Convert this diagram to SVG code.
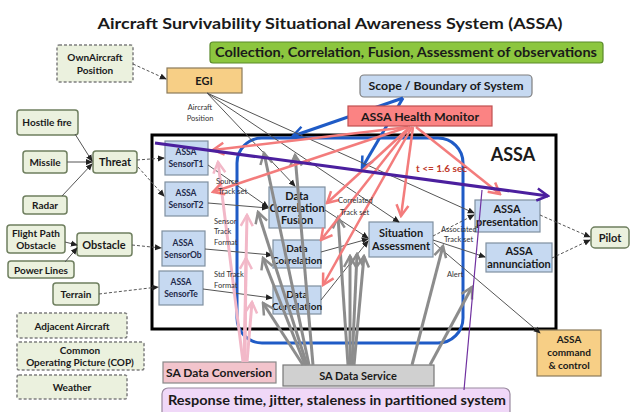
<svg xmlns="http://www.w3.org/2000/svg" width="632" height="412" viewBox="0 0 632 412">
<style>
text{font-family:Lato,"Liberation Sans",Arial,sans-serif;font-weight:bold;fill:#1a1a1a;text-anchor:middle}
.g{fill:#ebf1de;stroke:#6f7f5f;stroke-width:1.5}
.gd{fill:#ebf1de;stroke:#7f7f7f;stroke-width:1.5;stroke-dasharray:3 2}
.b{fill:#c6d9f1;stroke:#7f8fa0;stroke-width:1.2}
.o{fill:#f7cf86;stroke:#8a7a5a;stroke-width:1.2}
.t8{font-size:8.5px;fill:#1f2a4a}
.t10{font-size:10px}
.t11{font-size:11px}
.lbl{font-size:7.5px;font-weight:normal;fill:#333;text-anchor:start}
.thin{stroke:#555;stroke-width:1;fill:none;marker-end:url(#ad)}
.dash{stroke-dasharray:3 2}
.gray{stroke:#8c8c8c;stroke-width:3;fill:none;marker-end:url(#ag)}
.red{stroke:#f37c7c;stroke-width:2.5;fill:none;marker-end:url(#ar)}
.pink{stroke:#f2b8c8;stroke-width:3;fill:none;marker-end:url(#ap)}
.blue{stroke:#1f5bc6;stroke-width:3;fill:none}
</style>
<defs>
<marker id="ad" markerUnits="userSpaceOnUse" viewBox="0 0 8 8" markerWidth="7" markerHeight="7" refX="7" refY="4" orient="auto"><path d="M0,0.5 L8,4 L0,7.5z" fill="#222"/></marker>
<marker id="ag" markerUnits="userSpaceOnUse" viewBox="0 0 16 16" markerWidth="16" markerHeight="16" refX="14" refY="8" orient="auto"><path d="M3,2 L14,8 L3,14" fill="none" stroke="#8c8c8c" stroke-width="2.5"/></marker>
<marker id="ar" markerUnits="userSpaceOnUse" viewBox="0 0 16 16" markerWidth="16" markerHeight="16" refX="14" refY="8" orient="auto"><path d="M3,2 L14,8 L3,14" fill="none" stroke="#f37c7c" stroke-width="2.5"/></marker>
<marker id="ap" markerUnits="userSpaceOnUse" viewBox="0 0 16 16" markerWidth="16" markerHeight="16" refX="14" refY="8" orient="auto"><path d="M3,2 L14,8 L3,14" fill="none" stroke="#f2b8c8" stroke-width="2.5"/></marker>
<marker id="ab" markerUnits="userSpaceOnUse" viewBox="0 0 16 16" markerWidth="16" markerHeight="16" refX="14" refY="8" orient="auto"><path d="M3,2 L14,8 L3,14" fill="none" stroke="#1f5bc6" stroke-width="2.5"/></marker>
<marker id="au" markerUnits="userSpaceOnUse" viewBox="0 0 16 16" markerWidth="16" markerHeight="16" refX="14" refY="8" orient="auto"><path d="M3,2 L14,8 L3,14" fill="none" stroke="#4b1f9e" stroke-width="2.5"/></marker>
</defs>
<rect width="632" height="412" fill="#fff"/>
<text x="330" y="29" font-size="16" textLength="465" lengthAdjust="spacingAndGlyphs">Aircraft Survivability Situational Awareness System (ASSA)</text>

<g id="banner"><rect x="210" y="42" width="393" height="21" rx="3" fill="#8cc63f" stroke="#5a8a2a" stroke-width="1.2"/><text x="406" y="57" font-size="13" textLength="382" lengthAdjust="spacingAndGlyphs">Collection, Correlation, Fusion, Assessment of observations</text></g>

<g id="assa-frame"><rect x="152" y="135" width="404" height="194" fill="none" stroke="#000" stroke-width="3"/><text x="513" y="161" font-size="18">ASSA</text></g>

<g id="ownaircraft"><rect class="gd" x="57" y="45" width="76" height="37" rx="2"/><text class="t10" x="95" y="61">OwnAircraft</text><text class="t10" x="95" y="74">Position</text></g>
<g id="egi"><rect class="o" x="167" y="68" width="75" height="25"/><text class="t11" x="204" y="85">EGI</text></g>
<g id="scope"><rect x="360" y="75" width="172" height="22" rx="4" fill="#c6d9f1" stroke="#7f7f7f" stroke-width="1.2"/><text x="446" y="90" font-size="11" textLength="155" lengthAdjust="spacingAndGlyphs">Scope / Boundary of System</text></g>

<g id="hostile"><rect class="g" x="17" y="110" width="61" height="25" rx="3"/><text class="t10" x="47" y="126">Hostile fire</text></g>
<g id="missile"><rect class="g" x="23" y="151" width="44" height="22" rx="3"/><text class="t10" x="45" y="166">Missile</text></g>
<g id="radar"><rect class="g" x="23" y="196" width="44" height="18" rx="3"/><text class="t10" x="45" y="209">Radar</text></g>
<g id="threat"><rect class="g" x="93" y="151" width="44" height="22" rx="3"/><text class="t11" x="115" y="166">Threat</text></g>
<g id="flightpath"><rect class="g" x="7" y="225" width="58" height="28" rx="3"/><text class="t10" x="36" y="237">Flight Path</text><text class="t10" x="36" y="249">Obstacle</text></g>
<g id="obstacle"><rect class="g" x="77" y="233" width="55" height="23" rx="3"/><text class="t11" x="104" y="249">Obstacle</text></g>
<g id="powerlines"><rect class="g" x="8" y="261" width="66" height="17" rx="3"/><text class="t10" x="41" y="274">Power Lines</text></g>
<g id="terrain"><rect class="g" x="53" y="283" width="46" height="22" rx="3"/><text class="t10" x="76" y="298">Terrain</text></g>
<g id="adjacent"><rect class="gd" x="17" y="313" width="110" height="25" rx="2"/><text class="t10" x="72" y="330">Adjacent Aircraft</text></g>
<g id="cop"><rect class="gd" x="17" y="342" width="127" height="28" rx="2"/><text class="t10" x="80" y="354">Common</text><text class="t10" x="80" y="366">Operating Picture (COP)</text></g>
<g id="weather"><rect class="gd" x="17" y="375" width="110" height="24" rx="2"/><text class="t10" x="72" y="391">Weather</text></g>

<g id="sensorT1"><rect class="b" x="165" y="141" width="43" height="34"/><text class="t8" x="186" y="155">ASSA</text><text class="t8" x="186" y="167">SensorT1</text></g>
<g id="sensorT2"><rect class="b" x="165" y="182" width="43" height="34"/><text class="t8" x="186" y="196">ASSA</text><text class="t8" x="186" y="208">SensorT2</text></g>
<g id="sensorOb"><rect class="b" x="162" y="231" width="43" height="35"/><text class="t8" x="183" y="246">ASSA</text><text class="t8" x="183" y="258">SensorOb</text></g>
<g id="sensorTe"><rect class="b" x="159" y="271" width="44" height="34"/><text class="t8" x="181" y="285">ASSA</text><text class="t8" x="181" y="297">SensorTe</text></g>
<g id="dcf"><rect class="b" x="269" y="187" width="56" height="41"/><text class="t11" x="297" y="200">Data</text><text class="t11" x="297" y="212">Correlation</text><text class="t11" x="297" y="224">Fusion</text></g>
<g id="dc1"><rect class="b" x="273" y="240" width="48" height="28"/><text class="t10" x="297" y="252">Data</text><text class="t10" x="297" y="264">Correlation</text></g>
<g id="dc2"><rect class="b" x="273" y="286" width="48" height="28"/><text class="t10" x="297" y="298">Data</text><text class="t10" x="297" y="310">Correlation</text></g>
<g id="situation"><rect class="b" x="369" y="222" width="64" height="35"/><text class="t11" x="401" y="237">Situation</text><text class="t11" x="401" y="250">Assessment</text></g>
<g id="presentation"><rect class="b" x="475" y="200" width="65" height="32"/><text class="t11" x="507" y="213">ASSA</text><text class="t11" x="507" y="226">presentation</text></g>
<g id="annunciation"><rect class="b" x="486" y="243" width="66" height="29"/><text class="t11" x="519" y="255">ASSA</text><text class="t11" x="519" y="268">annunciation</text></g>
<g id="pilot"><rect class="g" x="591" y="227" width="38" height="21" rx="4"/><text class="t11" x="610" y="242">Pilot</text></g>
<g id="command"><rect class="o" x="537" y="330" width="64" height="46"/><text class="t10" x="569" y="343">ASSA</text><text class="t10" x="569" y="356">command</text><text class="t10" x="569" y="369">&amp; control</text></g>
<g id="conversion"><rect x="163" y="362" width="113" height="21" fill="#f2c4cc" stroke="#888" stroke-width="1.2"/><text x="219" y="377" font-size="11" textLength="106" lengthAdjust="spacingAndGlyphs">SA Data Conversion</text></g>
<g id="service"><rect x="283" y="365" width="151" height="21" fill="#d0d0d0" stroke="#777" stroke-width="1.2"/><text x="358" y="380" font-size="11">SA Data Service</text></g>
<g id="response"><rect x="162" y="388" width="348" height="30" rx="6" fill="#f0d8f8" stroke="#9a8aa0" stroke-width="1.2"/><text x="337" y="405" font-size="13" textLength="338" lengthAdjust="spacingAndGlyphs">Response time, jitter, staleness in partitioned system</text></g>

<g id="connectors">
<rect x="237" y="138" width="226" height="205" rx="25" class="blue"/>
<path class="blue" d="M403,98 L293,136" marker-end="url(#ab)"/>
<path class="blue" d="M403,98 L362,168" marker-end="url(#ab)"/>
<path class="thin dash" d="M133,64 L166,79"/>
<path class="thin" d="M207,93 L295,186"/>
<path class="thin" d="M207,93 L399,222"/>
<path class="thin" d="M207,93 L474,213"/>
<path class="thin" d="M75,134 L92,161"/>
<path class="thin" d="M67,162 L92,162"/>
<path class="thin" d="M62,196 L92,164"/>
<path class="thin dash" d="M137,160 L164,158"/>
<path class="thin dash" d="M138,167 L164,196"/>
<path class="thin" d="M65,242 L77,245"/>
<path class="thin" d="M65,262 L77,248"/>
<path class="thin dash" d="M132,245 L161,248"/>
<path class="thin dash" d="M99,294 L158,287"/>
<path class="thin" d="M208,165 L268,207"/>
<path class="thin" d="M208,203 L268,208"/>
<path class="thin" d="M205,249 L272,255"/>
<path class="thin" d="M203,289 L272,298"/>
<path class="thin" d="M325,210 L368,238"/>
<path class="thin" d="M321,252 L368,239"/>
<path class="thin" d="M321,300 L368,241"/>
<path class="thin dash" d="M433,236 L474,215"/>
<path class="thin" d="M433,240 L485,257"/>
<path class="thin dash" d="M540,215 L590,237"/>
<path class="thin dash" d="M552,258 L590,240"/>
<path class="thin" d="M434,243 L540,333"/>
<path class="gray" d="M303,365 L263,303"/>
<path class="gray" d="M305,365 L263,258"/>
<path class="gray" d="M307,365 L258,212"/>
<path class="gray" d="M309,365 L264,153"/>
<path class="gray" d="M313,365 L295,155"/>
<path class="gray" d="M348,365 L338,217"/>
<path class="gray" d="M350,365 L350,256"/>
<path class="gray" d="M352,365 L357,254"/>
<path class="gray" d="M354,365 L364,256"/>
<path class="gray" d="M412,365 L443,246"/>
<path class="gray" d="M430,365 L472,287"/>
<path class="pink" d="M243,362 L218,162"/>
<path class="pink" d="M244,362 L247,215"/>
<path class="pink" d="M245,362 L246,258"/>
<path class="pink" d="M247,362 L252,302"/>
<path class="red" d="M408,127 L213,150"/>
<path class="red" d="M408,127 L213,192"/>
<path class="red" d="M410,127 L327,203"/>
<path class="red" d="M410,127 L321,240"/>
<path class="red" d="M412,127 L323,285"/>
<path class="red" d="M413,127 L401,216"/>
<path class="red" d="M416,127 L500,194"/>
<path d="M155,143 L548,196" stroke="#4b1f9e" stroke-width="3" fill="none" marker-end="url(#au)"/>
<path d="M482,190 L464,390" stroke="#7030a0" stroke-width="1.2" fill="none"/>
<text class="lbl" x="200" y="110" style="text-anchor:middle">Aircraft</text>
<text class="lbl" x="200" y="121" style="text-anchor:middle">Position</text>
<text class="lbl" x="216" y="184">Source</text>
<text class="lbl" x="218" y="194">Track set</text>
<text class="lbl" x="214" y="224">Sensor</text>
<text class="lbl" x="214" y="234">Track</text>
<text class="lbl" x="214" y="245">Format</text>
<text class="lbl" x="214" y="277">Std Track</text>
<text class="lbl" x="214" y="288">Format</text>
<text class="lbl" x="338" y="203">Correlated</text>
<text class="lbl" x="340" y="215">Track set</text>
<text class="lbl" x="441" y="232">Associated</text>
<text class="lbl" x="444" y="242">Track set</text>
<text class="lbl" x="447" y="277">Alert</text>
<text x="416" y="172" font-size="10" style="text-anchor:start;fill:#c0392b">t &lt;= 1.6 sec</text>
</g>

<g id="health-monitor"><rect x="348" y="106" width="144" height="20" fill="#fb8383" stroke="#c05050" stroke-width="1.2"/><text x="420" y="121" font-size="12" textLength="118" lengthAdjust="spacingAndGlyphs">ASSA Health Monitor</text></g>
</svg>
